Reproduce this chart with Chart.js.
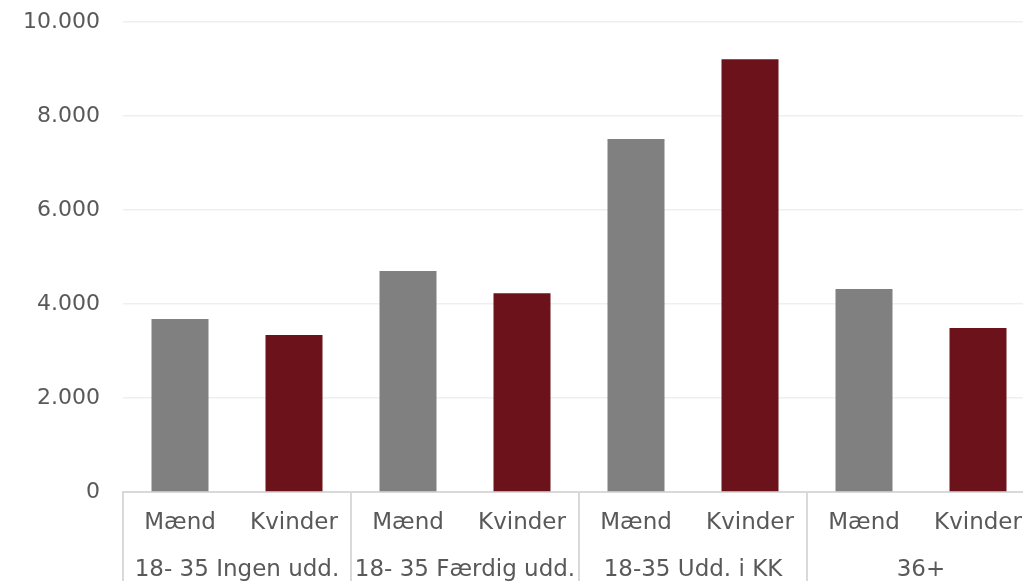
<!DOCTYPE html>
<html lang="da">
  <head>
    <meta charset="UTF-8" />
    <script src="https://cdn.jsdelivr.net/npm/chart.js"></script>
    <style>
      body {
        margin: 0;
        overflow: hidden;
        background: #ffffff;
      }
      #wrap {
        width: 1040px;
        height: 600px;
      }
    </style>
  </head>
  <body>
    <div id="wrap">
      <canvas id="barChart" width="1040" height="600"></canvas>
    </div>

    <script>
      // data
      const categories = ["Mænd", "Kvinder", "Mænd", "Kvinder", "Mænd", "Kvinder", "Mænd", "Kvinder"];
      const groups = ["18- 35 Ingen udd.", "18- 35 Færdig udd.", "18-35 Udd. i KK", "36+"];
      const values = [3680, 3340, 4700, 4230, 7510, 9210, 4320, 3490];
      const yTicks = [0, 2000, 4000, 6000, 8000, 10000];

      const grey = "#808080";
      const darkRed = "#6c121b";
      const textColor = "#595959";
      const fontFamily = "'DejaVu Sans', sans-serif";

      function formatDk(v) {
        return String(v).replace(/\B(?=(\d{3})+(?!\d))/g, ".");
      }

      // vertical lines between the groups, below the axis
      const groupLines = {
        id: "groupLines",
        afterDraw(chart) {
          const ctx = chart.ctx;
          const x = chart.scales.x;
          const step = categories.length / groups.length;
          ctx.save();
          ctx.strokeStyle = "#d9d9d9";
          ctx.lineWidth = 2;
          for (let i = 0; i <= categories.length; i += step) {
            const px = x.getPixelForDecimal(i / categories.length);
            ctx.beginPath();
            ctx.moveTo(px, chart.chartArea.bottom);
            ctx.lineTo(px, chart.height);
            ctx.stroke();
          }
          ctx.restore();
        },
      };

      const ctx = document.getElementById("barChart").getContext("2d");
      const barChart = new Chart(ctx, {
        type: "bar",
        data: {
          labels: categories,
          datasets: [
            {
              data: values,
              backgroundColor: categories.map((c, i) => (i % 2 === 0 ? grey : darkRed)),
              categoryPercentage: 0.5,
              barPercentage: 1.0,
            },
          ],
        },
        options: {
          responsive: false,
          animation: false,
          layout: {
            padding: { top: 22, right: 5, bottom: 0, left: 0 },
          },
          plugins: {
            legend: { display: false },
            tooltip: { enabled: false },
          },
          scales: {
            y: {
              min: 0,
              max: 10000,
              afterBuildTicks: (scale) => {
                scale.ticks = yTicks.map((v) => ({ value: v }));
              },
              afterFit: (scale) => {
                scale.width = 123;
                scale.paddingTop = 0;
                scale.paddingBottom = 0;
              },
              border: { display: false },
              grid: {
                color: (c) => (c.tick && c.tick.value === 0 ? "rgba(0,0,0,0)" : "#efefef"),
                lineWidth: 1.5,
                drawTicks: false,
              },
              ticks: {
                padding: 23,
                color: textColor,
                font: { family: fontFamily, size: 22 },
                callback: (v) => formatDk(v),
              },
            },
            x: {
              position: "bottom",
              afterFit: (scale) => {
                scale.height = 46;
              },
              border: { display: true, color: "#d9d9d9", width: 2 },
              grid: { display: false },
              ticks: {
                padding: 9,
                color: textColor,
                maxRotation: 0,
                autoSkip: false,
                font: { family: fontFamily, size: 23 },
              },
            },
            x2: {
              type: "category",
              position: "bottom",
              labels: groups,
              offset: true,
              afterFit: (scale) => {
                scale.height = 62;
              },
              border: { display: false },
              grid: { display: false },
              ticks: {
                padding: 10,
                color: textColor,
                maxRotation: 0,
                autoSkip: false,
                font: { family: fontFamily, size: 23 },
              },
            },
          },
        },
        plugins: [groupLines],
      });
    </script>
  </body>
</html>
